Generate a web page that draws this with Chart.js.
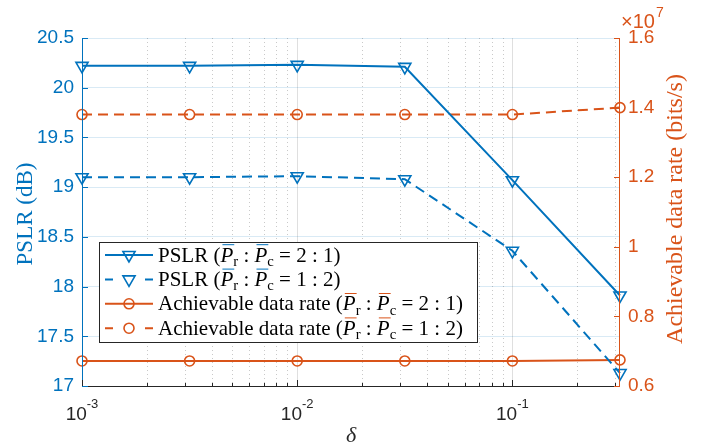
<!DOCTYPE html>
<html>
<head>
<meta charset="utf-8">
<script src="https://cdn.jsdelivr.net/npm/chart.js@4"></script>
<style>
body{margin:0;background:#fff}
canvas{display:block}
</style>
</head>
<body>
<canvas id="chart" width="703" height="447"></canvas>
<script>
// data
var delta = [0.001, 0.0031623, 0.01, 0.031623, 0.1, 0.31623];
var pslr21 = [20.22, 20.22, 20.23, 20.21, 19.07, 17.91];
var pslr12 = [19.10, 19.10, 19.11, 19.08, 18.36, 17.13];
var rate21 = [6.72e6, 6.72e6, 6.72e6, 6.72e6, 6.72e6, 6.75e6];
var rate12 = [1.38e7, 1.38e7, 1.38e7, 1.38e7, 1.38e7, 1.40e7];
var xLabelTicks = [0.001, 0.01, 0.1];
var xLabelExp = ['-3', '-2', '-1'];
var ratios = ['2 : 1', '1 : 2', '2 : 1', '1 : 2'];
var names = ['PSLR', 'PSLR', 'Achievable data rate', 'Achievable data rate'];

var blue = '#0072BD', orange = '#D95319', dark = '#262626';
var sans = '"Liberation Sans", Arial, sans-serif';
var serif = '"Liberation Serif", "Times New Roman", serif';

function pts(ys){
  return ys.map(function(y, i){ return {x: delta[i], y: y}; });
}

function isInt(v){ return Math.abs(v - Math.round(v)) < 1e-6; }

function series(label, ys, axis, color, dash, style){
  return {
    label: label, data: pts(ys), yAxisID: axis,
    borderColor: color, borderWidth: 2, borderDash: dash,
    pointStyle: style, rotation: style == 'triangle' ? 180 : 0,
    pointRadius: style == 'triangle' ? 7 : 5, pointBorderWidth: 1.6,
    pointBorderColor: color, pointBackgroundColor: 'rgba(0,0,0,0)',
    fill: false, tension: 0, clip: false
  };
}

// P-bar ratio text, drawn piece by piece
function richText(ctx, x, y, parts, size){
  parts.forEach(function(p){
    var s = p.sub ? size * 0.7 : size;
    ctx.font = (p.it ? 'italic ' : '') + s + 'px ' + serif;
    var yy = p.sub ? y + size * 0.2 : y;
    ctx.fillText(p.t, x, yy);
    var w = ctx.measureText(p.t).width;
    if (p.bar){
      ctx.save();
      ctx.lineWidth = 1;
      ctx.setLineDash([]);
      ctx.beginPath();
      ctx.moveTo(x + 2, y - size * 0.8);
      ctx.lineTo(x + w + 1, y - size * 0.8);
      ctx.stroke();
      ctx.restore();
    }
    x += w;
  });
}

var decor = {
  id: 'decor',
  beforeDatasetsDraw: function(chart){
    var ctx = chart.ctx, xs = chart.scales.x, a = chart.chartArea;
    ctx.save();
    xs.ticks.forEach(function(t){
      var lg = Math.log10(t.value);
      var sig = t.value / Math.pow(10, Math.floor(lg + 1e-9));
      if (!isInt(sig)) return;
      var px = Math.round(xs.getPixelForValue(t.value)) + 0.5;
      if (px <= a.left + 1 || px >= a.right - 1) return;
      ctx.beginPath();
      if (isInt(lg)){
        ctx.setLineDash([]);
        ctx.strokeStyle = 'rgba(38,38,38,0.15)';
      } else {
        ctx.setLineDash([1, 3]);
        ctx.strokeStyle = 'rgba(38,38,38,0.25)';
      }
      ctx.lineWidth = 1;
      ctx.moveTo(px, a.top);
      ctx.lineTo(px, a.bottom);
      ctx.stroke();
    });
    ctx.restore();
  },
  afterDraw: function(chart){
    var ctx = chart.ctx, a = chart.chartArea;
    var xs = chart.scales.x, yl = chart.scales.y, yr = chart.scales.y1;
    ctx.save();
    ctx.setLineDash([]);
    ctx.lineWidth = 1;

    // axis lines
    ctx.strokeStyle = dark;
    ctx.beginPath(); ctx.moveTo(a.left, a.bottom + 0.5); ctx.lineTo(a.right, a.bottom + 0.5); ctx.stroke();
    ctx.strokeStyle = blue;
    ctx.beginPath(); ctx.moveTo(a.left + 0.5, a.top); ctx.lineTo(a.left + 0.5, a.bottom); ctx.stroke();
    ctx.strokeStyle = orange;
    ctx.beginPath(); ctx.moveTo(a.right - 0.5, a.top); ctx.lineTo(a.right - 0.5, a.bottom); ctx.stroke();

    // inward ticks
    ctx.strokeStyle = dark;
    xs.ticks.forEach(function(t){
      var lg = Math.log10(t.value);
      var sig = t.value / Math.pow(10, Math.floor(lg + 1e-9));
      if (!isInt(sig)) return;
      var px = Math.round(xs.getPixelForValue(t.value)) + 0.5;
      var len = isInt(lg) ? 6 : 3;
      ctx.beginPath(); ctx.moveTo(px, a.bottom); ctx.lineTo(px, a.bottom - len); ctx.stroke();
    });
    ctx.strokeStyle = blue;
    yl.ticks.forEach(function(t){
      var py = Math.round(yl.getPixelForValue(t.value)) + 0.5;
      ctx.beginPath(); ctx.moveTo(a.left, py); ctx.lineTo(a.left + 6, py); ctx.stroke();
    });
    ctx.strokeStyle = orange;
    yr.ticks.forEach(function(t){
      var py = Math.round(yr.getPixelForValue(t.value)) + 0.5;
      ctx.beginPath(); ctx.moveTo(a.right, py); ctx.lineTo(a.right - 6, py); ctx.stroke();
    });

    // x tick labels 10^n
    ctx.fillStyle = dark;
    ctx.textBaseline = 'alphabetic';
    ctx.textAlign = 'left';
    xLabelTicks.forEach(function(v, i){
      var px = xs.getPixelForValue(v);
      ctx.font = '19px ' + sans;
      var w1 = ctx.measureText('10').width;
      ctx.font = '13px ' + sans;
      var w2 = ctx.measureText(xLabelExp[i]).width;
      var x0 = px - (w1 + w2) / 2;
      ctx.font = '19px ' + sans;
      ctx.fillText('10', x0, 420);
      ctx.font = '13px ' + sans;
      ctx.fillText(xLabelExp[i], x0 + w1, 408);
    });

    // x10^7 on right axis
    ctx.fillStyle = orange;
    ctx.font = '20px ' + sans;
    ctx.fillText('\u00d710', 621, 28);
    var wm = ctx.measureText('\u00d710').width;
    ctx.font = '14px ' + sans;
    ctx.fillText('7', 621 + wm + 1, 17);

    // axis titles
    ctx.textAlign = 'center';
    ctx.textBaseline = 'middle';
    ctx.font = '23px ' + serif;
    ctx.fillStyle = blue;
    ctx.save(); ctx.translate(26, 214); ctx.rotate(-Math.PI / 2); ctx.fillText('PSLR (dB)', 0, 0); ctx.restore();
    ctx.font = '24px ' + serif;
    ctx.fillStyle = orange;
    ctx.save(); ctx.translate(676, 209); ctx.rotate(-Math.PI / 2); ctx.fillText('Achievable data rate (bits/s)', 0, 0); ctx.restore();
    ctx.fillStyle = dark;
    ctx.font = 'italic 22px ' + serif;
    ctx.fillText('\u03b4', 351, 436);

    // legend
    ctx.fillStyle = '#fff';
    ctx.fillRect(99, 242, 378, 100);
    ctx.strokeStyle = dark;
    ctx.strokeRect(99.5, 242.5, 378, 100);
    ctx.textAlign = 'left';
    ctx.textBaseline = 'alphabetic';
    chart.data.datasets.forEach(function(ds, i){
      var cy = 255 + i * 24.4;
      ctx.strokeStyle = ds.borderColor;
      ctx.lineWidth = 2;
      ctx.setLineDash(ds.borderDash.length ? [8, 32] : []);
      ctx.beginPath(); ctx.moveTo(105, cy); ctx.lineTo(153, cy); ctx.stroke();
      ctx.setLineDash([]);
      ctx.lineWidth = ds.pointBorderWidth;
      ctx.fillStyle = 'rgba(0,0,0,0)';
      Chart.helpers.drawPoint(ctx, {pointStyle: ds.pointStyle, rotation: ds.rotation,
        radius: ds.pointRadius, borderWidth: ds.pointBorderWidth}, 129, cy);
      ctx.fillStyle = '#000';
      richText(ctx, 158, cy + 6.5, [
        {t: names[i] + ' ('}, {t: 'P', it: true, bar: true}, {t: 'r', sub: true},
        {t: ' : '}, {t: 'P', it: true, bar: true}, {t: 'c', sub: true},
        {t: ' = ' + ratios[i] + ')'}
      ], 21);
    });
    ctx.restore();
  }
};

var myChart = new Chart('chart', {
  type: 'line',
  data: {
    datasets: [
      series('PSLR 2:1', pslr21, 'y', blue, [], 'triangle'),
      series('PSLR 1:2', pslr12, 'y', blue, [10, 6], 'triangle'),
      series('Rate 2:1', rate21, 'y1', orange, [], 'circle'),
      series('Rate 1:2', rate12, 'y1', orange, [10, 6], 'circle')
    ]
  },
  options: {
    responsive: false,
    devicePixelRatio: 1,
    animation: false,
    layout: {padding: {top: 38, left: 0, right: 0, bottom: 0}},
    plugins: {legend: {display: false}, tooltip: {enabled: false}},
    scales: {
      x: {
        type: 'logarithmic', min: 0.001, max: 0.31623,
        grid: {display: false},
        border: {display: false},
        ticks: {display: false, autoSkip: false},
        afterFit: function(s){ s.height = 61; }
      },
      y: {
        position: 'left', min: 17, max: 20.5,
        grid: {color: 'rgba(0,114,189,0.15)', drawTicks: false},
        border: {display: false},
        ticks: {stepSize: 0.5, color: blue, padding: 8, font: {family: sans, size: 19},
          callback: function(v){ return String(Math.round(v * 10) / 10); }},
        afterFit: function(s){ s.width = 82; }
      },
      y1: {
        position: 'right', min: 6e6, max: 1.6e7,
        grid: {drawOnChartArea: false, drawTicks: false},
        border: {display: false},
        ticks: {stepSize: 2e6, color: orange, padding: 8, font: {family: sans, size: 19},
          callback: function(v){ return String(Math.round(v / 1e5) / 100); }},
        afterFit: function(s){ s.width = 83; }
      }
    }
  },
  plugins: [decor]
});
</script>
</body>
</html>
